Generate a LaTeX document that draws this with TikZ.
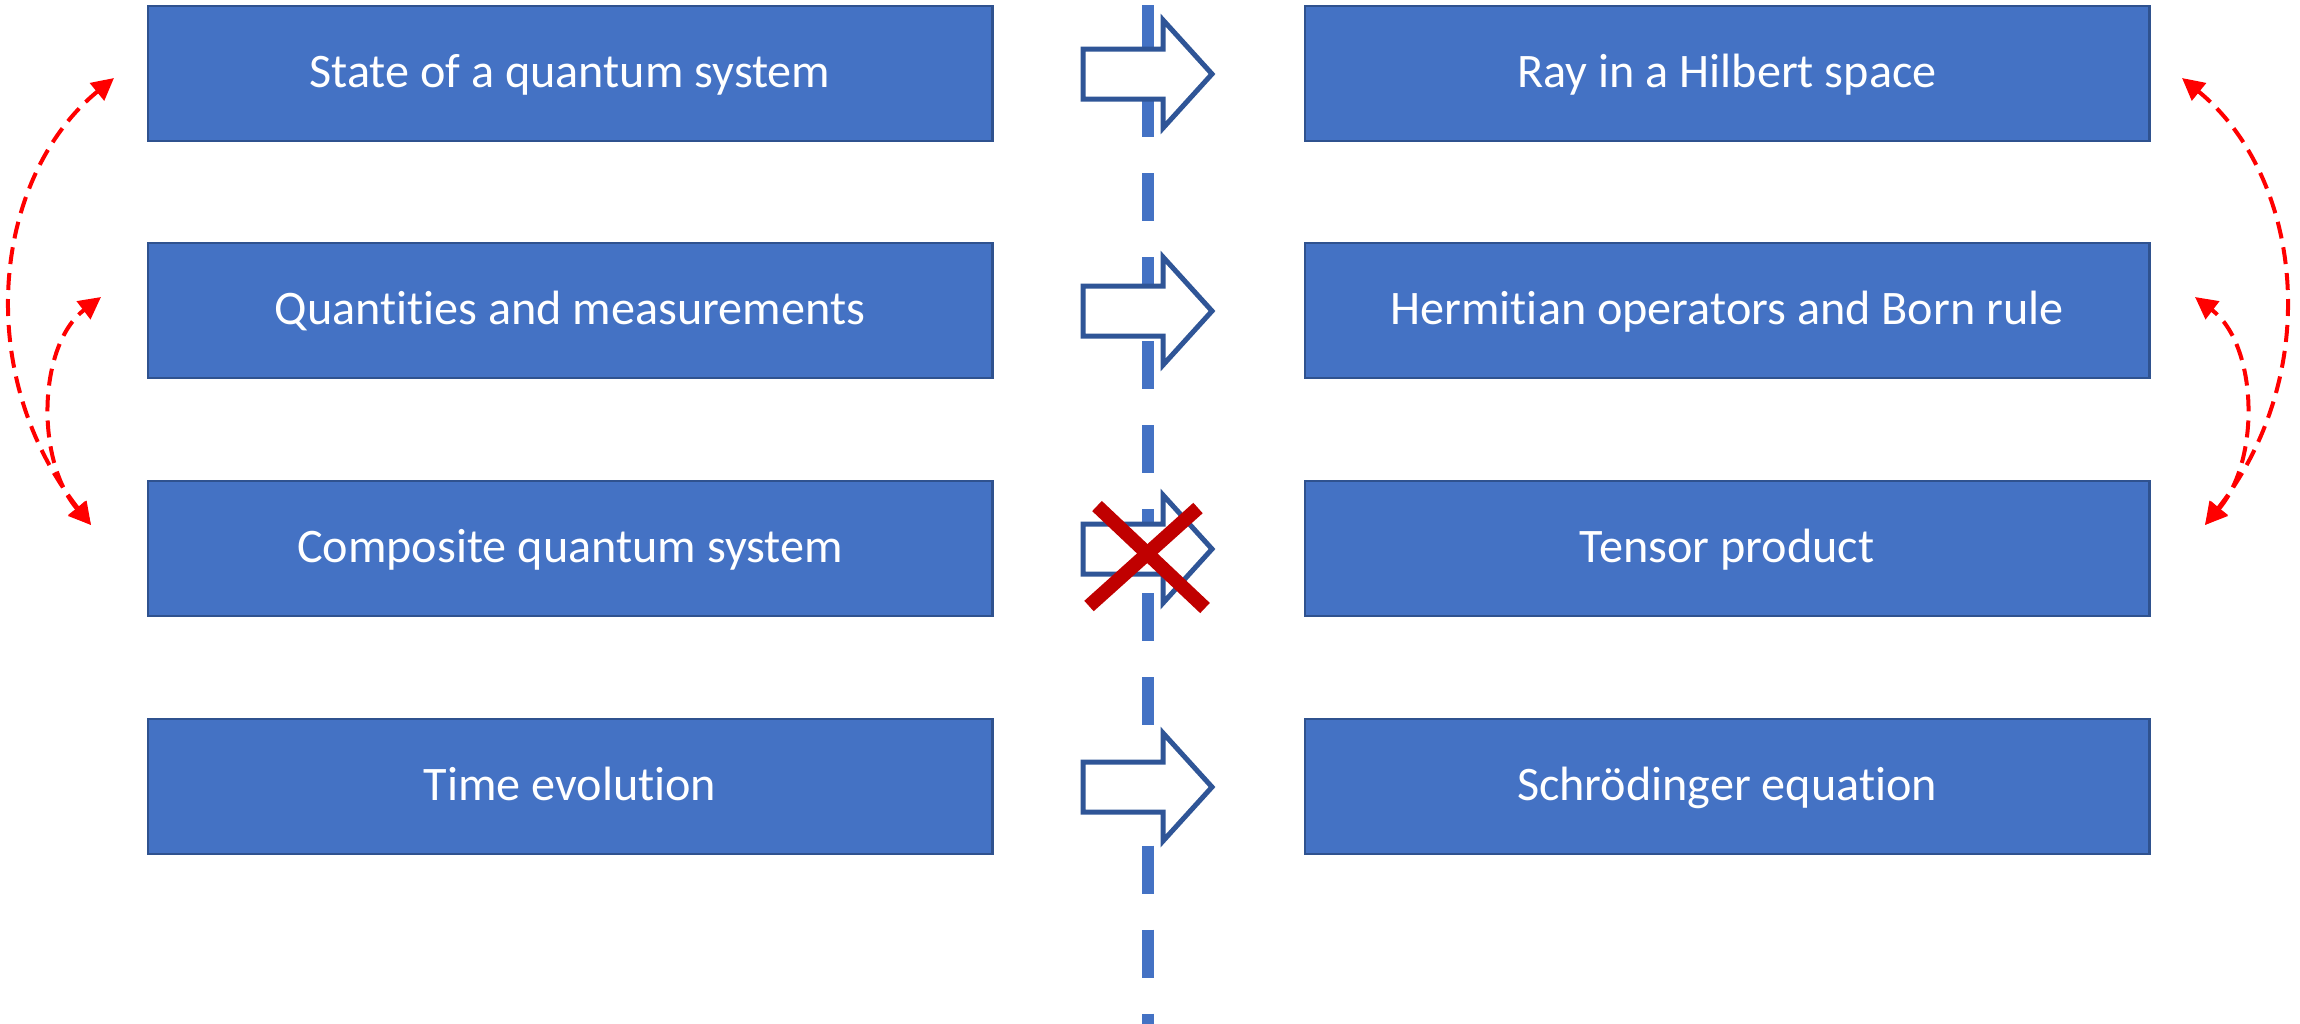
\documentclass[tikz,border=0pt]{standalone}
\usepackage{fontspec}
\setmainfont{Carlito}[Ligatures=NoCommon]
\usetikzlibrary{arrows.meta}
\definecolor{boxfill}{HTML}{4472C4}
\definecolor{boxline}{HTML}{2F528F}
\definecolor{arrline}{HTML}{2F5597}
\definecolor{xred}{HTML}{C00000}
\begin{document}
\begin{tikzpicture}[x=0.01cm,y=-0.01cm,
  box/.style={draw=boxline,fill=boxfill,line width=0.025cm,minimum width=8.44cm,minimum height=1.35cm,inner sep=0pt,text=white,text height=2.1ex,text depth=0.45ex,font=\fontsize{13.7}{16}\selectfont},
  blockarr/.style={draw=arrline,fill=white,line width=0.05cm,line join=miter},
  redarc/.style={draw=red,line width=0.04cm,dash pattern=on 0.17cm off 0.09cm,{Triangle[length=0.22cm,width=0.22cm]}-{Triangle[length=0.22cm,width=0.22cm]}},
  cross/.style={draw=xred,line width=0.14cm}]
\useasboundingbox (0,0) rectangle (2300,1023);
\fill[white] (0,0) rectangle (2300,1023);
% vertical dashed line
\coordinate (vtop) at (1148,5);
\coordinate (vbot) at (1148,1040);
\draw[boxfill,line width=0.12cm,dash pattern=on 0.48cm off 0.36cm] (vtop) -- (vbot);
% boxes
\node[box] (l1) at (570,73.5) {State of a quantum system};
\node[box] (l2) at (570,310.5) {Quantities and measurements};
\node[box] (l3) at (570,548.5) {Composite quantum system};
\node[box] (l4) at (570,786.5) {Time evolution};
\node[box] (r1) at (1727,73.5) {Ray in a Hilbert space};
\node[box] (r2) at (1727,310.5) {Hermitian operators and Born rule};
\node[box] (r3) at (1727,548.5) {Tensor product};
\node[box] (r4) at (1727,786.5) {Schrödinger equation};
% block arrows
\foreach \c/\n in {74/a1,311/a2,549/a3,787/a4}{
  \draw[blockarr] (1083,\c-25) -- (1163,\c-25) -- (1163,\c-54) -- (1212,\c) -- (1163,\c+54) -- (1163,\c+25) -- (1083,\c+25) -- cycle;
  \coordinate (\n) at (1148,\c);
}
% red cross
\draw[cross] (1097,506) -- (1205,608);
\draw[cross] (1089,606) -- (1198,508);
% left red arcs
\coordinate (lb) at (91,525);
\coordinate (lt1) at (114,78);
\coordinate (lt2) at (101,297);
\draw[redarc] (lb) .. controls (-30,370) and (-5,175) .. (lt1);
\draw[redarc] (lb) .. controls (35,460) and (38,345) .. (lt2);
% right red arcs
\coordinate (rb) at (2205,525);
\coordinate (rt1) at (2182,78);
\coordinate (rt2) at (2195,297);
\draw[redarc] (rb) .. controls (2326,370) and (2301,175) .. (rt1);
\draw[redarc] (rb) .. controls (2261,460) and (2258,345) .. (rt2);
\end{tikzpicture}
\end{document}
